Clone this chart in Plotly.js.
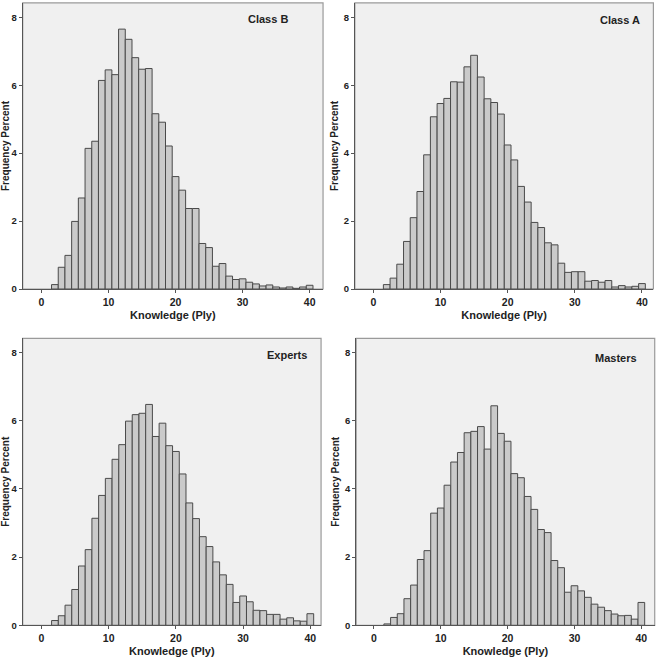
<!DOCTYPE html>
<html>
<head>
<meta charset="utf-8">
<script src="https://cdn.plot.ly/plotly-3.0.1.min.js"></script>
<style>html,body{margin:0;padding:0;background:#fff;}#chart{width:662px;height:660px;}</style>
</head>
<body>
<div id="chart"></div>
<script>
var plyBins = [2,3,4,5,6,7,8,9,10,11,12,13,14,15,16,17,18,19,20,21,22,23,24,25,26,27,28,29,30,31,32,33,34,35,36,37,38,39,40];
var classB = [0.13,0.64,0.99,1.99,2.68,4.14,4.35,6.14,6.45,6.31,7.65,7.35,6.81,6.47,6.49,5.16,4.91,4.21,3.31,2.91,2.37,2.37,1.34,1.22,0.67,0.75,0.38,0.28,0.30,0.20,0.15,0.09,0.12,0.06,0.03,0.06,0.02,0.06,0.11];
var classA = [0.13,0.32,0.73,1.40,2.10,2.87,3.95,5.07,5.46,5.61,6.10,6.09,6.54,6.88,6.24,5.60,5.49,5.15,4.24,3.80,3.02,2.56,1.96,1.81,1.36,1.30,0.76,0.49,0.51,0.51,0.23,0.25,0.20,0.25,0.06,0.10,0.06,0.08,0.16];
var experts = [0.14,0.28,0.59,1.05,1.74,2.22,3.14,3.81,4.31,4.87,5.30,5.99,6.18,6.22,6.48,5.54,5.93,5.27,5.10,4.44,3.59,3.13,2.60,2.31,1.86,1.48,1.20,0.67,0.86,0.69,0.44,0.43,0.32,0.32,0.18,0.22,0.13,0.12,0.34];
var masters = [0.04,0.23,0.34,0.78,1.18,1.93,2.19,3.29,3.44,4.11,4.79,5.07,5.65,5.69,5.83,5.17,6.44,5.63,5.40,4.45,4.33,3.78,3.40,2.81,2.72,1.90,1.69,0.97,1.16,1.01,0.82,0.62,0.53,0.43,0.33,0.28,0.29,0.18,0.67];
var panelNames = ["Class B", "Class A", "Experts", "Masters"];
var xTicks = [0, 10, 20, 30, 40];
var yTicks = [0, 2, 4, 6, 8];
var xTitle = "Knowledge (Ply)";
var yTitle = "Frequency Percent";

var series = [classB, classA, experts, masters];
var FONT = "Liberation Sans, Arial, sans-serif";
var traces = series.map(function(vals, i){
  var s = i === 0 ? "" : String(i+1);
  return {
    type: "bar", x: plyBins, y: vals, width: 1,
    xaxis: "x" + s, yaxis: "y" + s,
    marker: {color: "#cacaca", line: {color: "#4a4a4a", width: 1}},
    hoverinfo: "skip", showlegend: false
  };
});

var xDomains = [[0.0343, 0.488], [0.536, 0.987], [0.0343, 0.485], [0.538, 0.989]];
var yDomains = [[0.5621, 0.9955], [0.5621, 0.9955], [0.0526, 0.4874], [0.0526, 0.4874]];
var xRanges = [[-2.8, 42.0], [-2.75, 41.7], [-2.8, 41.6], [-2.65, 42.0]];
var labelPos = [[0.89, 0.944], [0.962, 0.94], [0.96, 0.942], [0.947, 0.931]];

var layout = {
  width: 662, height: 660,
  margin: {l: 0, r: 0, t: 0, b: 0},
  paper_bgcolor: "#ffffff",
  bargap: 0,
  font: {family: FONT, color: "#222"},
  annotations: [],
  shapes: []
};
for (var i = 0; i < 4; i++) {
  var s = i === 0 ? "" : String(i+1);
  layout["xaxis" + s] = {
    domain: xDomains[i], range: xRanges[i], anchor: "y" + s,
    tickvals: xTicks, ticktext: xTicks.map(String),
    ticks: "outside", ticklen: 3, tickcolor: "#555", tickwidth: 1,
    showline: true, linecolor: "#555", linewidth: 1, mirror: false,
    showgrid: false, zeroline: false,
    tickfont: {family: FONT, size: 10.5, color: "#222", weight: "bold"},
    title: {text: xTitle, font: {family: FONT, size: 11, color: "#222", weight: "bold"}, standoff: 4}
  };
  layout["yaxis" + s] = {
    domain: yDomains[i], range: [0, 8.42], anchor: "x" + s,
    tickvals: yTicks, ticktext: yTicks.map(String),
    ticks: "outside", ticklen: 3, tickcolor: "#555", tickwidth: 1,
    showline: true, linecolor: "#555", linewidth: 1,
    showgrid: false, zeroline: false,
    tickfont: {family: FONT, size: 9.5, color: "#222", weight: "bold"},
    title: {text: yTitle, font: {family: FONT, size: 10, color: "#222", weight: "bold"}, standoff: 3}
  };
  layout.shapes.push({
    type: "rect", xref: "x" + s + " domain", yref: "y" + s + " domain",
    x0: 0, x1: 1, y0: 0, y1: 1, layer: "below",
    fillcolor: "#f0f0f0", line: {color: "#9a9a9a", width: 1.2}
  });
  layout.annotations.push({
    text: panelNames[i], xref: "x" + s + " domain", yref: "y" + s + " domain",
    x: labelPos[i][0], y: labelPos[i][1], xanchor: "right", yanchor: "middle", showarrow: false,
    font: {family: FONT, size: 11, color: "#222", weight: "bold"}
  });
}
Plotly.newPlot("chart", traces, layout, {staticPlot: true, displayModeBar: false});
</script>
</body>
</html>
